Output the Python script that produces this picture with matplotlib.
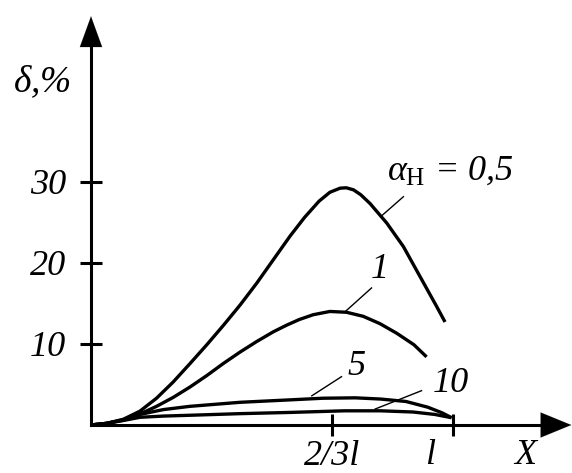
import numpy as np
import matplotlib
matplotlib.use('Agg')
from matplotlib import pyplot as plt

# кривые delta(X) для разных alpha_H (X в долях l, delta в %)
x_05 = [0, 0.043, 0.089, 0.135, 0.181, 0.227, 0.274, 0.320, 0.366, 0.412, 0.458, 0.504, 0.550, 0.590, 0.630,
        0.660, 0.688, 0.705, 0.725, 0.745, 0.771, 0.817, 0.863, 0.909, 0.955, 0.978]
y_05 = [0, 0.2, 0.7, 1.7, 3.3, 5.3, 7.6, 9.9, 12.3, 14.8, 17.5, 20.4, 23.3, 25.6, 27.6,
        28.7, 29.2, 29.25, 29.0, 28.4, 27.3, 24.9, 22.0, 18.3, 14.6, 12.7]
x_1 = [0, 0.043, 0.089, 0.135, 0.181, 0.227, 0.274, 0.320, 0.366, 0.412, 0.458, 0.504, 0.540, 0.575, 0.614,
       0.660, 0.706, 0.752, 0.798, 0.845, 0.892, 0.927]
y_1 = [0, 0.2, 0.65, 1.35, 2.3, 3.4, 4.7, 6.1, 7.6, 9.0, 10.3, 11.5, 12.3, 13.0, 13.6,
       14.0, 13.9, 13.4, 12.5, 11.3, 9.9, 8.4]
x_5 = [0, 0.043, 0.089, 0.135, 0.200, 0.273, 0.412, 0.550, 0.640, 0.730, 0.800, 0.870, 0.930, 0.970, 0.996]
y_5 = [0, 0.2, 0.6, 1.3, 1.9, 2.3, 2.8, 3.1, 3.3, 3.35, 3.2, 2.9, 2.2, 1.5, 0.9]
x_10 = [0, 0.043, 0.089, 0.135, 0.200, 0.273, 0.412, 0.550, 0.700, 0.800, 0.890, 0.950, 0.996]
y_10 = [0, 0.2, 0.55, 0.95, 1.1, 1.2, 1.4, 1.55, 1.75, 1.75, 1.6, 1.3, 0.9]

y_ticks = [10, 20, 30]
y_tick_labels = ['10', '20', '30']
x_ticks = [2 / 3, 1]
x_tick_labels = ['2/3l', '']

# подписи кривых: текст, позиция текста, выноска (начало, конец)
labels = [r'$\alpha_{\mathrm{Н}}$ = 0,5', '1', '5', '10']
label_pos = [(0.818, 30.2), (0.772, 18.1), (0.708, 6.2), (0.945, 4.07)]
leader_start = [(0.803, 25.8), (0.702, 13.97), (0.610, 3.6), (0.785, 1.97)]
leader_end = [(0.863, 28.15), (0.775, 16.9), (0.692, 5.96), (0.913, 4.23)]

plt.rcParams['font.family'] = ['Liberation Serif', 'DejaVu Serif']
plt.rcParams['font.style'] = 'italic'
plt.rcParams['mathtext.fontset'] = 'custom'
plt.rcParams['mathtext.rm'] = 'Liberation Serif:style=normal'
plt.rcParams['mathtext.it'] = 'Liberation Serif:style=italic'

fig = plt.figure(figsize=(5.72, 4.73), dpi=100)
ax = fig.add_axes([0, 0, 1, 1])
ax.set_xlim(-91 / 362, (572 - 91) / 362)
ax.set_ylim(-(473 - 425) / 8.11, 425 / 8.11)

lw = 2.4
for xs, ys in [(x_05, y_05), (x_1, y_1), (x_5, y_5), (x_10, y_10)]:
    ax.plot(xs, ys, color='black', lw=lw, solid_capstyle='butt', solid_joinstyle='round')

# оси со стрелками
for s in ['top', 'right']:
    ax.spines[s].set_visible(False)
ax.spines['left'].set_position(('data', 0))
ax.spines['bottom'].set_position(('data', 0))
ax.spines['left'].set_bounds(0, 47)
ax.spines['bottom'].set_bounds(0, 1.29)
ax.spines['left'].set_linewidth(2.2)
ax.spines['bottom'].set_linewidth(2.2)
ax.annotate('', xy=(0, 50.4), xytext=(0, 45),
            arrowprops=dict(arrowstyle='-|>,head_length=1.1,head_width=0.4', color='black',
                            lw=0.1, mutation_scale=20, shrinkA=0, shrinkB=0))
ax.annotate('', xy=(1.327, 0), xytext=(1.25, 0),
            arrowprops=dict(arrowstyle='-|>,head_length=1.1,head_width=0.45', color='black',
                            lw=0.1, mutation_scale=20, shrinkA=0, shrinkB=0))

ax.set_yticks(y_ticks, y_tick_labels)
ax.set_xticks(x_ticks, x_tick_labels)
ax.tick_params(axis='both', direction='inout', length=16, width=2.2, labelsize=26)
ax.tick_params(axis='y', pad=10)
ax.tick_params(axis='x', pad=3)

ax.text(-0.135, 41, r'$\delta$,%', fontsize=27, ha='center', va='baseline')
ax.text(0.937, -4.8, 'l', fontsize=26, ha='center', va='baseline')
ax.text(1.2, -4.8, 'X', fontsize=26, ha='center', va='baseline')

for txt, pos, p0, p1 in zip(labels, label_pos, leader_start, leader_end):
    ax.plot([p0[0], p1[0]], [p0[1], p1[1]], color='black', lw=1.0)
    ax.text(pos[0], pos[1], txt, fontsize=26, ha='left', va='baseline')

fig.savefig('out.png', dpi=100)
